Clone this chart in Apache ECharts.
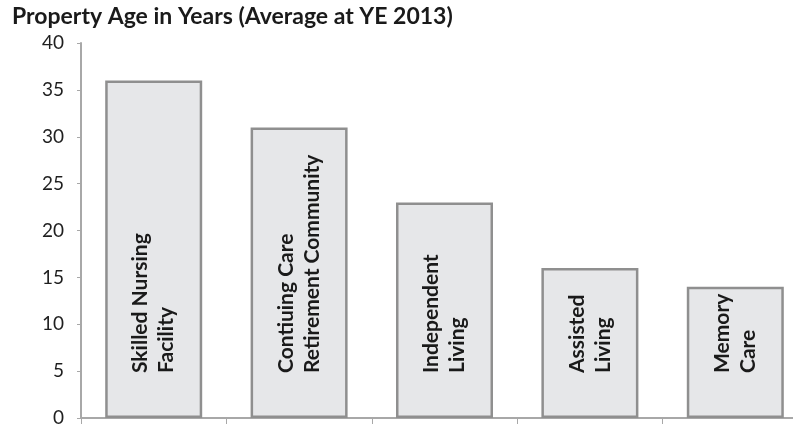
<!DOCTYPE html>
<html>
<head>
<meta charset="utf-8">
<script src="https://cdn.jsdelivr.net/npm/echarts@6/dist/echarts.min.js"></script>
<style>
  html, body { margin: 0; padding: 0; background: #fff; }
  #main { width: 793px; height: 432px; }
</style>
</head>
<body>
<div id="main"></div>
<script>
const chartTitle = 'Property Age in Years (Average at YE 2013)';
const categories = [
  'Skilled Nursing\nFacility',
  'Contiuing Care\nRetirement Community',
  'Independent\nLiving',
  'Assisted\nLiving',
  'Memory\nCare'
];
const ages = [36, 31, 23, 16, 14];
const yTicks = [0, 5, 10, 15, 20, 25, 30, 35, 40];

let myChart = echarts.init(document.getElementById('main'));

let option = {
  animation: false,
  backgroundColor: '#fff',
  title: {
    text: chartTitle,
    left: 7,
    top: 0,
    textStyle: {
      fontFamily: 'Lato',
      fontWeight: 'bold',
      fontSize: 23,
      color: '#1a1a1a'
    }
  },
  grid: {
    left: 81,
    top: 43,
    width: 727,
    bottom: 14,
    outerBoundsMode: 'none',
    containLabel: false
  },
  xAxis: {
    type: 'category',
    data: categories,
    boundaryGap: true,
    axisLine: { lineStyle: { color: '#a8a8a8', width: 2 } },
    axisTick: { show: true, interval: 0, length: 6, lineStyle: { color: '#a8a8a8', width: 1 } },
    axisLabel: { show: false }
  },
  yAxis: {
    type: 'value',
    min: yTicks[0],
    max: yTicks[yTicks.length - 1],
    interval: 5,
    axisLine: { show: true, lineStyle: { color: '#a8a8a8', width: 2 } },
    axisTick: { show: true, length: 4, lineStyle: { color: '#a8a8a8' } },
    splitLine: { show: false },
    axisLabel: {
      margin: 17,
      fontFamily: 'Lato',
      fontSize: 19,
      color: '#1f1f1f'
    }
  },
  series: [
    {
      type: 'bar',
      data: ages,
      barWidth: 97,
      itemStyle: {
        color: '#e6e7e9',
        borderColor: '#8f8f8f',
        borderWidth: 2.5
      },
      label: {
        show: true,
        position: 'insideBottom',
        distance: 45,
        rotate: 90,
        align: 'left',
        verticalAlign: 'middle',
        formatter: p => categories[p.dataIndex],
        fontFamily: 'Lato',
        fontWeight: 'bold',
        fontSize: 21,
        lineHeight: 26,
        color: '#1a1a1a'
      }
    }
  ]
};

myChart.setOption(option);
</script>
</body>
</html>
